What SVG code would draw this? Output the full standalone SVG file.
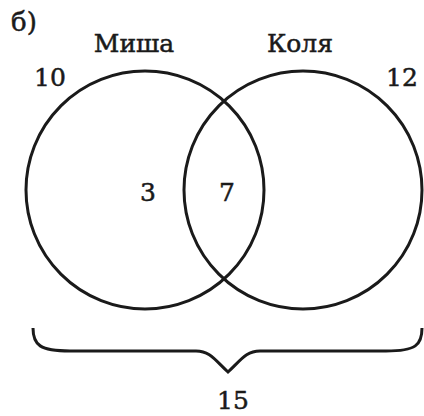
<svg xmlns="http://www.w3.org/2000/svg" width="424" height="416" viewBox="0 0 424 416">
<style>
.c{fill:none;stroke:#1a1a1a;stroke-width:3}
text{font-family:"DejaVu Serif","Liberation Serif",serif;fill:#1a1a1a;stroke:#1a1a1a;stroke-width:0.5}
.n{font-size:25px}
.l{font-size:25px}
</style>
<rect width="424" height="416" fill="#fff"/>
<text class="l" x="11" y="31" style="font-size:26px">б)</text>
<g id="misha">
<circle class="c" cx="145" cy="190" r="119"/>
<text class="l" x="134" y="52" text-anchor="middle">Миша</text>
<text class="n" x="50" y="86" text-anchor="middle">10</text>
<text class="n" x="148" y="201" text-anchor="middle">3</text>
</g>
<g id="kolya">
<circle class="c" cx="303" cy="190" r="119"/>
<text class="l" x="300" y="52" text-anchor="middle">Коля</text>
<text class="n" x="402" y="86" text-anchor="middle">12</text>
<text class="n" x="227" y="201" text-anchor="middle">7</text>
</g>
<g id="brace">
<path class="c" d="M33,328 C33,345 40,351 70,351 L196,351 C210,351 215,360 228,372 C241,360 246,351 260,351 L386,351 C416,351 422,345 422,328"/>
<text class="n" x="233" y="409" text-anchor="middle">15</text>
</g>
</svg>
